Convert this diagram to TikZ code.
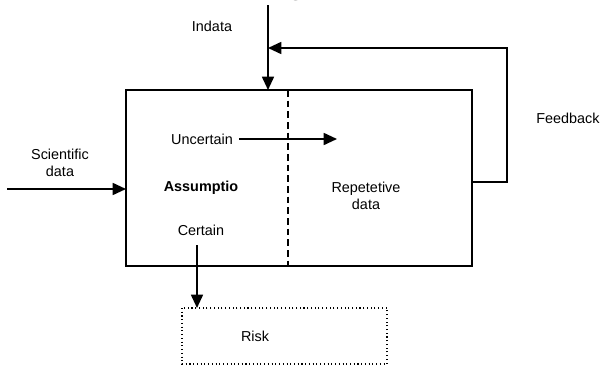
\documentclass[tikz,border=0pt]{standalone}
\usepackage{fontspec}
\setmainfont{Liberation Sans}
\newfontfamily\capfont{Liberation Serif}
\usetikzlibrary{arrows.meta,positioning}
\tikzset{
  lbl/.style={font=\fontsize{10.8}{12.8}\selectfont, align=center, inner sep=0pt},
  flow/.style={line width=1.3pt, -{Triangle[length=10pt,width=9pt]}},
  frame/.style={line width=1.3pt}
}

\begin{document}
\begin{tikzpicture}[x=0.75pt,y=-0.75pt]
    \useasboundingbox (0,0) rectangle (601,365);
    \clip (0,0) rectangle (601,365);

    % main box and its split
    \draw[frame] (126,90) coordinate (bnw) rectangle (472,266) coordinate (bse);
    \draw[line width=1pt, dash pattern=on 5pt off 3pt] (288,90) coordinate (splittop) -- (288,266) coordinate (splitbot);

    % labels
    \node[lbl] (indata) at (212,26) {Indata};
    \node[lbl] (scidata) at (60,163) {Scientific\\data};
    \node[lbl, font=\fontsize{10.8}{12.8}\selectfont\bfseries] (assume) at (201,188) {Assumptio};
    \node[lbl] (uncert) at (202,139) {Uncertain};
    \node[lbl] (certain) at (201,230) {Certain};
    \node[lbl] (repet) at (366,196) {Repetetive\\data};
    \node[lbl] (feedb) at (568,118) {Feedback};
    \node[anchor=base, inner sep=0pt, font=\capfont\fontsize{18}{20}\selectfont] (capg) at (296,-4.5) {g};

    % risk box
    \draw[line width=0.8pt, dotted] (182,308) coordinate (rnw) rectangle (387,364) coordinate (rse);
    \node[lbl] (risk) at (255,336) {Risk};

    % inputs
    \coordinate (intop) at (268,5);
    \coordinate (inbot) at (268,90);
    \draw[flow] (intop) -- (inbot);
    \coordinate (scistart) at (7,189);
    \draw[flow] (scistart) -- (126,189) coordinate (sciend);

    % uncertain and certain
    \draw[flow] ([xshift=4.5pt]uncert.east) -- (337,139) coordinate (uncend);
    \coordinate (certtop) at (197,245);
    \draw[flow] (certtop) -- (197,308) coordinate (certend);

    % feedback loop
    \coordinate (fbout) at (472,182);
    \coordinate (fbright) at (507,182);
    \coordinate (fbcorner) at (507,48);
    \draw[flow] (fbout) -- (fbright) -- (fbcorner) -- (268,48) coordinate (fbend);
\end{tikzpicture}
\end{document}
